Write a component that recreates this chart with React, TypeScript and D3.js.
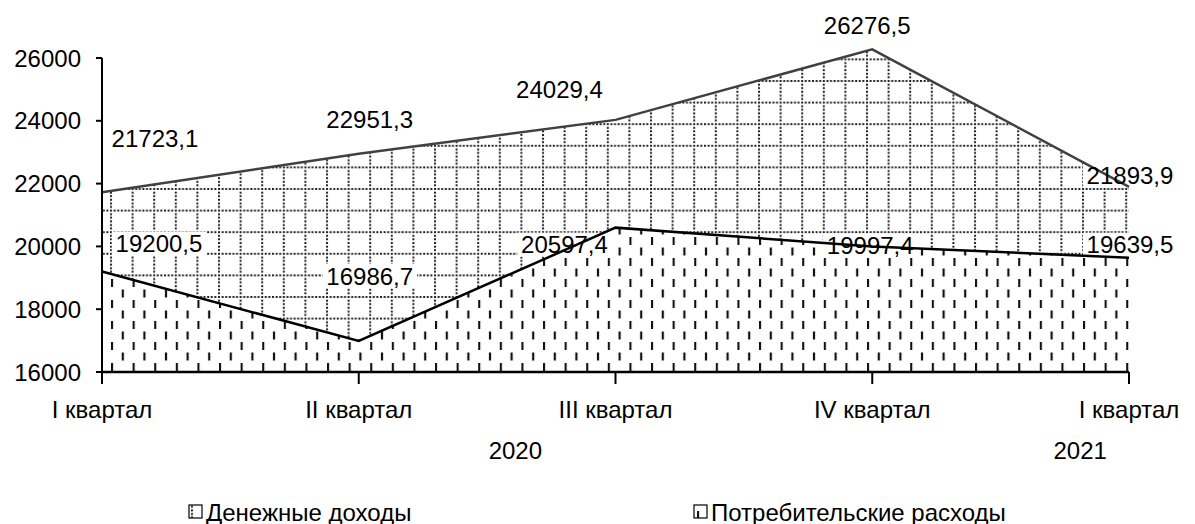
import React from "react";
import * as d3 from "d3";

const quarters = ["I квартал", "II квартал", "III квартал", "IV квартал", "I квартал"];
const years = ["2020", "2021"];
const yearPos = [1.61, 3.81]; // position on the category axis
const income = [21723.1, 22951.3, 24029.4, 26276.5, 21893.9];
const expenses = [19200.5, 16986.7, 20597.4, 19997.4, 19639.5];
const seriesNames = ["Денежные доходы", "Потребительские расходы"];

// label offsets from their points (dx, dy)
const incomeLabelOff = [[53, -54], [11, -34], [-56, -30], [-5, -24], [1, -11]];
const expenseLabelOff = [[57, -28], [11, -65], [-51, 17], [-2, -1], [1, -13]];

const W = 1195;
const H = 524;
const margin = {top: 58, right: 66, bottom: 152, left: 102};
const FONT = "'Liberation Sans', Arial, sans-serif";

const fmt = (v: number) => v.toFixed(1).replace(".", ",");

export default function App() {
    const x = d3.scaleLinear().domain([0, quarters.length - 1]).range([margin.left, W - margin.right]);
    const y = d3.scaleLinear().domain([16000, 26000]).range([H - margin.bottom, margin.top]);
    const y0 = y(16000);

    const area = d3.area<number>().x((d, i) => x(i)).y0(y0).y1(d => y(d));
    const line = d3.line<number>().x((d, i) => x(i)).y(d => y(d));

    const labels = [
        ...income.map((v, i) => ({x: x(i) + incomeLabelOff[i][0], y: y(v) + incomeLabelOff[i][1], t: fmt(v)})),
        ...expenses.map((v, i) => ({x: x(i) + expenseLabelOff[i][0], y: y(v) + expenseLabelOff[i][1], t: fmt(v)})),
    ];

    return (
        <svg width={W} height={H} style={{position: "absolute", left: 0, top: 0}} fontFamily={FONT}>
            <defs>
                <pattern id="grid" patternUnits="userSpaceOnUse" x={110} y={188} width={21.6} height={21.6}>
                    <rect width={21.6} height={21.6} fill="#fff"/>
                    <line x1={0} y1={1} x2={21.6} y2={1} stroke="#222" strokeWidth={2} strokeDasharray="2 1.6"/>
                    <line x1={1} y1={0} x2={1} y2={21.6} stroke="#222" strokeWidth={2} strokeDasharray="2 1.6"/>
                </pattern>
                <pattern id="dash" patternUnits="userSpaceOnUse" x={111} y={300} width={21.6} height={21}>
                    <rect width={21.6} height={21} fill="#fff"/>
                    <line x1={1} y1={0} x2={1} y2={8} stroke="#111" strokeWidth={2.2}/>
                    <line x1={11.8} y1={10.5} x2={11.8} y2={18.5} stroke="#111" strokeWidth={2.2}/>
                </pattern>
            </defs>

            <path d={area(income) || ""} fill="url(#grid)"/>
            <path d={area(expenses) || ""} fill="url(#dash)"/>

            {labels.map((l, i) => {
                const w = l.t.length * 13.2;
                return <rect key={"b" + i} x={l.x - w / 2 - 1} y={l.y - 12} width={w + 2} height={24} fill="#fff"/>;
            })}

            <path d={line(income) || ""} fill="none" stroke="#404040" strokeWidth={2.5}/>
            <path d={line(expenses) || ""} fill="none" stroke="#000" strokeWidth={2.5}/>

            {/* axes */}
            <line x1={margin.left} x2={margin.left} y1={y(26000)} y2={y0 + 6} stroke="#000" strokeWidth={2}/>
            <line x1={margin.left} x2={x(quarters.length - 1)} y1={y0} y2={y0} stroke="#000" strokeWidth={2.5}/>
            {y.ticks(5).map(t => (
                <g key={t}>
                    <line x1={margin.left - 6} x2={margin.left} y1={y(t)} y2={y(t)} stroke="#000" strokeWidth={2}/>
                    <text x={margin.left - 21} y={y(t)} textAnchor="end" dominantBaseline="central" fontSize={24}>{t}</text>
                </g>
            ))}
            {quarters.map((q, i) => (
                <g key={i}>
                    <line x1={x(i)} x2={x(i)} y1={y0} y2={y0 + 12} stroke="#000" strokeWidth={2}/>
                    <text x={x(i)} y={y0 + 37} textAnchor="middle" dominantBaseline="central" fontSize={24}>{q}</text>
                </g>
            ))}
            {years.map((yr, i) => (
                <text key={yr} x={x(yearPos[i])} y={y0 + 78} textAnchor="middle" dominantBaseline="central" fontSize={24}>{yr}</text>
            ))}

            {labels.map((l, i) => (
                <text key={"l" + i} x={l.x} y={l.y} textAnchor="middle" dominantBaseline="central" fontSize={24}>{l.t}</text>
            ))}

            {/* legend */}
            <g transform="translate(189,505)">
                <rect x={0} y={0} width={13} height={13} fill="url(#grid)" stroke="#000" strokeWidth={1.2}/>
                <text x={17} y={7} dominantBaseline="central" fontSize={24}>{seriesNames[0]}</text>
            </g>
            <g transform="translate(694,505)">
                <rect x={0} y={0} width={13} height={13} fill="url(#dash)" stroke="#000" strokeWidth={1.2}/>
                <text x={17} y={7} dominantBaseline="central" fontSize={24}>{seriesNames[1]}</text>
            </g>
        </svg>
    );
}
